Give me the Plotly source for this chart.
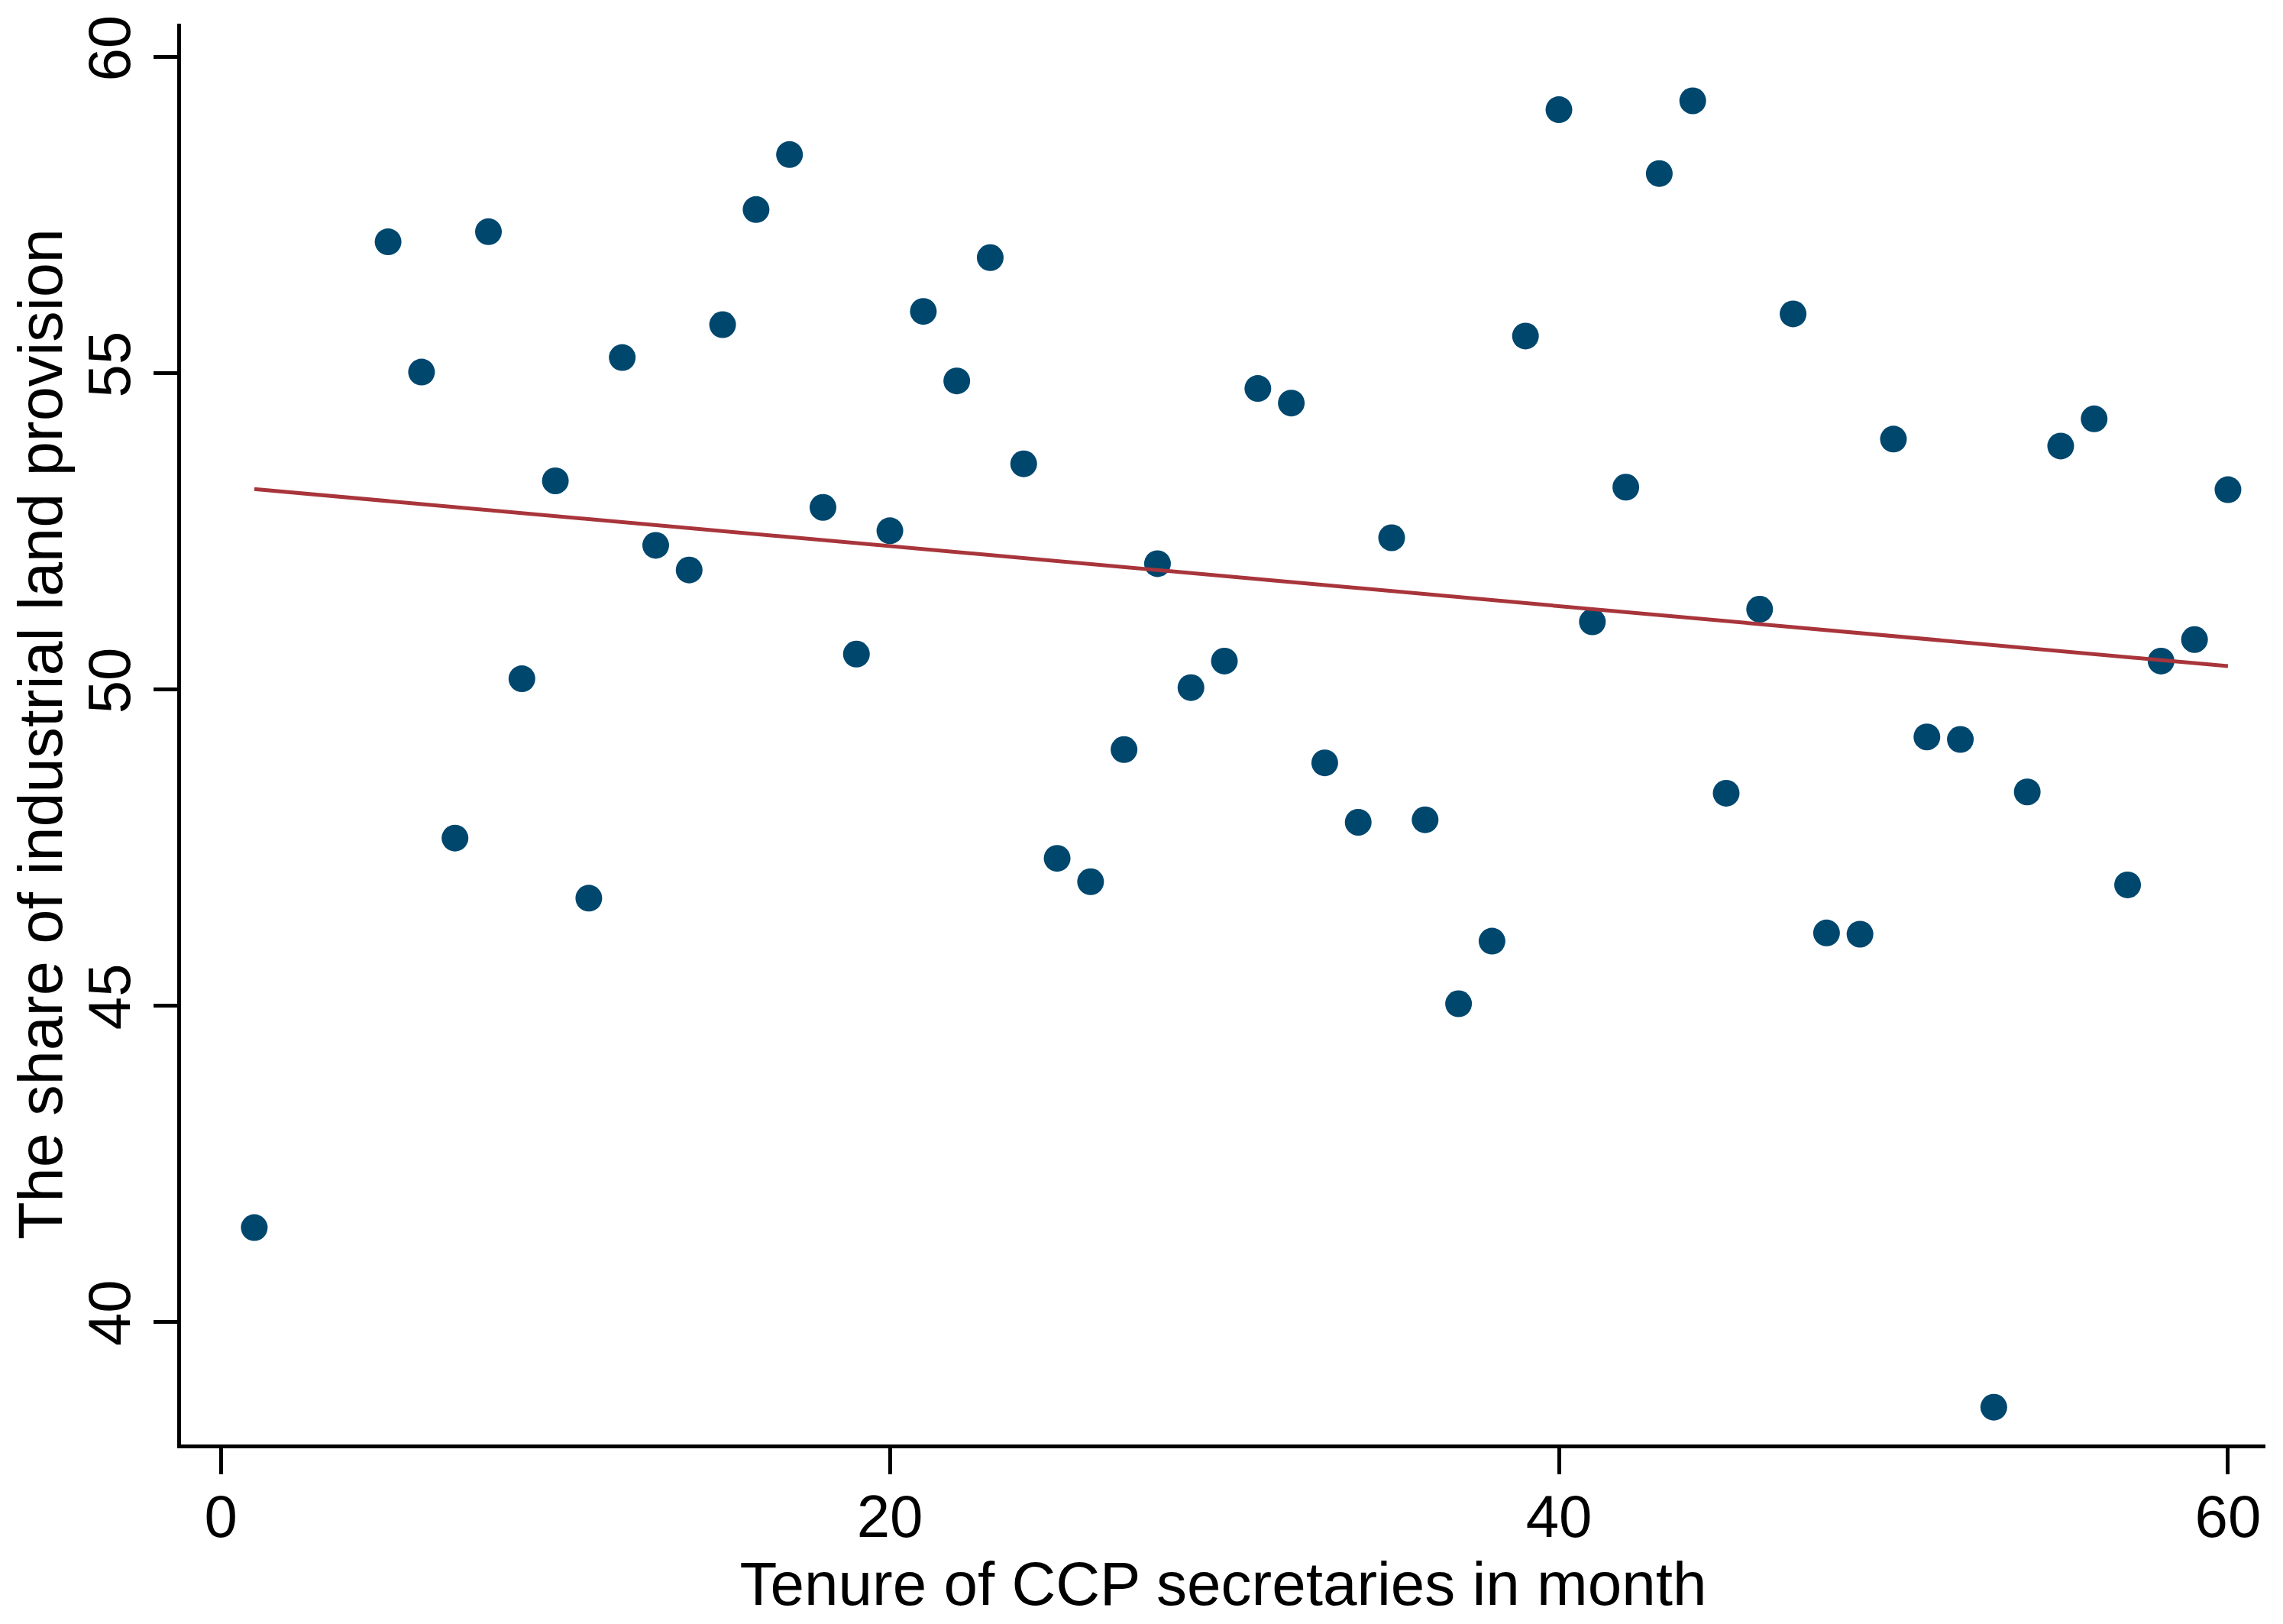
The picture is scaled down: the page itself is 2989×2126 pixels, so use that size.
import numpy as np
import plotly.graph_objects as go

# Data
tenure = [1, 5, 6, 7, 8, 9, 10, 11, 12, 13, 14, 15, 16, 17, 18, 19, 20,
          21, 22, 23, 24, 25, 26, 27, 28, 29, 30, 31, 32, 33, 34, 35, 36,
          37, 38, 39, 40, 41, 42, 43, 44, 45, 46, 47, 48, 49, 50, 51, 52,
          53, 54, 55, 56, 57, 58, 59, 60]
share = [41.49, 57.08, 55.02, 47.65, 57.24, 50.17, 53.30, 46.70, 55.25, 52.28,
         51.89, 55.77, 57.59, 58.46, 52.88, 50.56, 52.51, 55.98, 54.88, 56.83,
         53.57, 47.33, 46.96, 49.05, 51.99, 50.03, 50.45, 54.76, 54.53, 48.84,
         47.90, 52.40, 47.94, 45.03, 46.02, 55.59, 59.17, 51.07, 53.20, 58.16,
         59.31, 48.36, 51.27, 55.94, 46.15, 46.13, 53.96, 49.25, 49.21, 38.65,
         48.38, 53.85, 54.28, 46.91, 50.45, 50.79, 53.16]

# Fitted line values (linear fit as shown in the picture)
fit_x = [1, 60]
fit_y = [53.17, 50.37]

x_ticks = [0, 20, 40, 60]
y_ticks = [40, 45, 50, 55, 60]

x_title = "Tenure of CCP secretaries in month"
y_title = "The share of industrial land provision"

FONT = "Liberation Sans, Arial, sans-serif"

fig = go.Figure()
fig.add_trace(go.Scatter(
    x=tenure, y=share, mode="markers",
    marker=dict(size=35, color="#00476e", line=dict(width=0)),
    showlegend=False, hoverinfo="x+y",
))
fig.add_trace(go.Scatter(
    x=fit_x, y=fit_y, mode="lines",
    line=dict(color="#a8353b", width=5),
    showlegend=False,
))

# page body has an 8px default margin; compensate
fig.update_layout(
    width=2973, height=2110,
    margin=dict(l=229, r=15, t=15, b=227),
    paper_bgcolor="white", plot_bgcolor="white",
    font=dict(family=FONT, size=78, color="black"),
    xaxis=dict(
        range=[-1.19, 61.12],
        tickmode="array", tickvals=x_ticks, ticktext=[str(v) for v in x_ticks],
        showgrid=False, zeroline=False,
        showline=True, linecolor="black", linewidth=5,
        ticks="outside", ticklen=34, tickwidth=5, tickcolor="black",
        ticklabelstandoff=-12,
        tickfont=dict(family=FONT, size=78, color="black"),
        title=dict(text=x_title, font=dict(family=FONT, size=80, color="black"),
                   standoff=0),
    ),
    yaxis=dict(
        range=[38.06, 60.53],
        tickmode="array", tickvals=y_ticks, ticktext=[str(v) for v in y_ticks],
        showgrid=False, zeroline=False,
        showline=True, linecolor="black", linewidth=5,
        ticks="outside", ticklen=31, tickwidth=5, tickcolor="black",
        tickangle=-90,
        tickfont=dict(family=FONT, size=78, color="black"),
        title=dict(text=y_title, font=dict(family=FONT, size=81, color="black"),
                   standoff=10),
    ),
)

fig.write_html("out.html")
